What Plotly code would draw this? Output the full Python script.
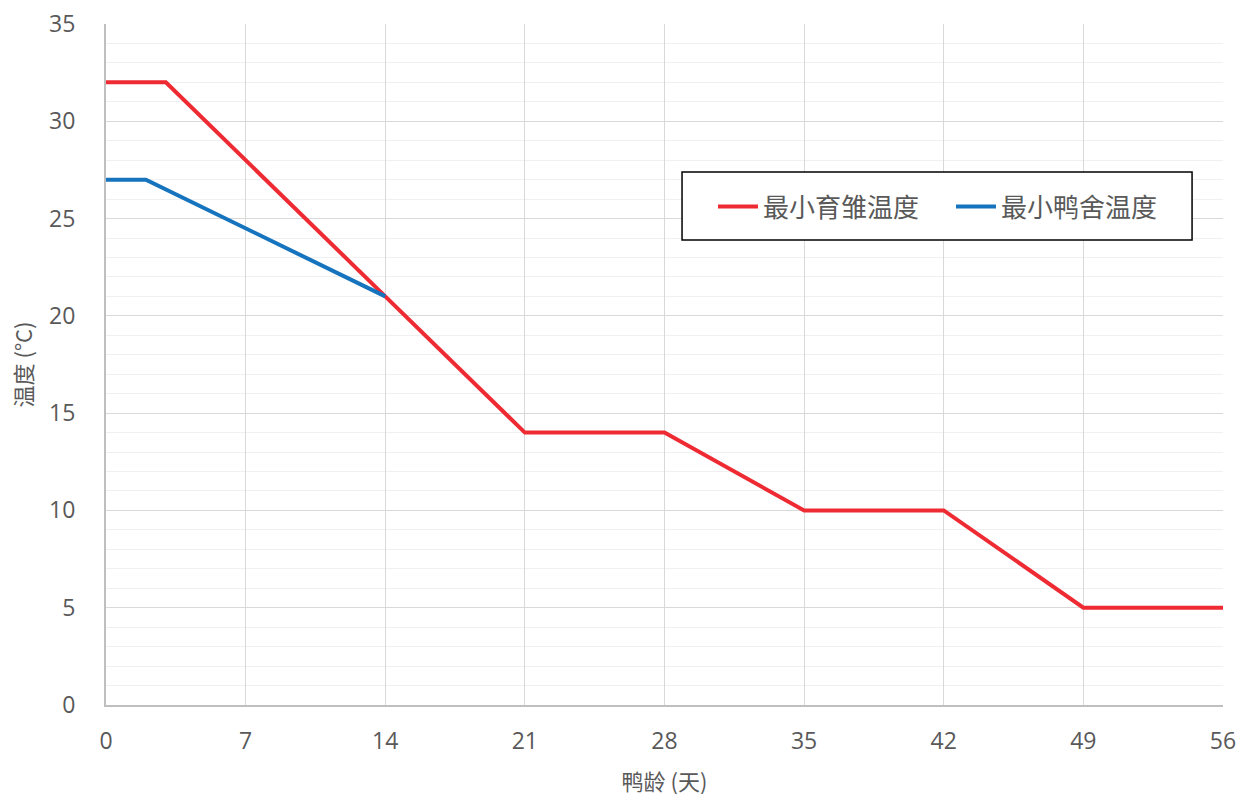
import plotly.graph_objects as go

brood_x = [0, 3, 14, 21, 28, 35, 42, 49, 56]
brood_y = [32, 32, 21, 14, 14, 10, 10, 5, 5]
house_x = [0, 2, 14]
house_y = [27, 27, 21]
x_ticks = [0, 7, 14, 21, 28, 35, 42, 49, 56]
y_ticks = [0, 5, 10, 15, 20, 25, 30, 35]

fig = go.Figure()
fig.add_trace(go.Scatter(x=brood_x, y=brood_y, mode="lines", name="最小育雏温度",
                         line=dict(color="#EE2A33", width=4)))
fig.add_trace(go.Scatter(x=house_x, y=house_y, mode="lines", name="最小鸭舍温度",
                         line=dict(color="#1673BD", width=4)))

tick_font = dict(family="Open Sans, Noto Sans, sans-serif", size=23, color="#595959")
title_font = dict(family="Noto Sans CJK SC", size=22, color="#595959")

# legend frame
fig.add_shape(type="rect", xref="paper", yref="paper",
              x0=0.5157, x1=0.9723, y0=0.6828, y1=0.7827,
              line=dict(color="#000000", width=1.5), fillcolor="white", layer="above")

fig.update_layout(
    width=1239, height=799,
    margin=dict(l=106, r=16, t=24, b=94, autoexpand=False),
    plot_bgcolor="white", paper_bgcolor="white",
    showlegend=True,
    legend=dict(orientation="h", x=0.5434, y=0.7665, xanchor="left", yanchor="top",
                borderwidth=0, bgcolor="rgba(0,0,0,0)",
                font=dict(family="Noto Sans CJK SC", size=26, color="#595959"),
                itemwidth=40, tracegroupgap=0,
                entrywidthmode="pixels", entrywidth=183),
    xaxis=dict(range=[0, 56], tickvals=x_ticks, ticktext=[str(v) for v in x_ticks],
               showgrid=True, gridcolor="#D9D9D9", gridwidth=1,
               showline=True, linecolor="#BFBFBF", linewidth=2, zeroline=False,
               tickfont=tick_font, ticks="", ticklabelstandoff=14,
               title=dict(text="鸭龄 (天)", font=title_font, standoff=20)),
    yaxis=dict(range=[0, 35], tickvals=y_ticks, ticktext=[str(v) for v in y_ticks],
               showgrid=True, gridcolor="#D9D9D9", gridwidth=1,
               showline=True, linecolor="#BFBFBF", linewidth=2, zeroline=False,
               tickfont=tick_font, ticks="", ticklabelstandoff=24,
               minor=dict(dtick=1, showgrid=True, gridcolor="#F0F0F0", gridwidth=1),
               title=dict(text="温度 (°C)", font=title_font, standoff=10)),
)
fig.write_html("out.html")
